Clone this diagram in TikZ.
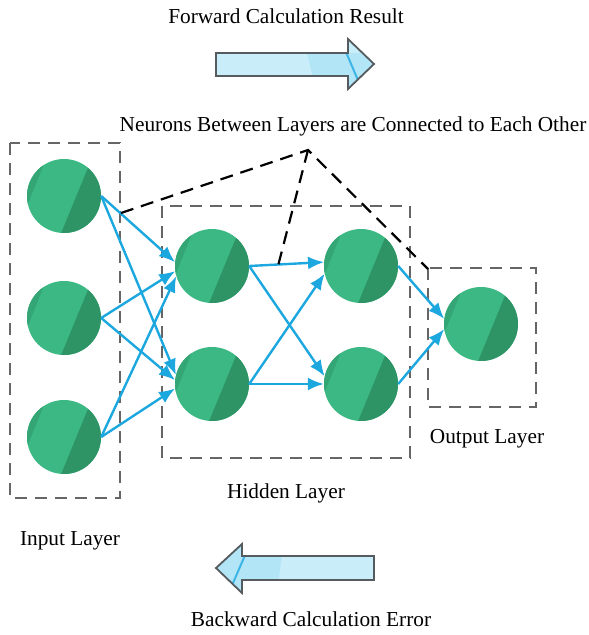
\documentclass[tikz,border=0pt]{standalone}
\usepackage{fontspec}
\setmainfont{Liberation Serif}
\usetikzlibrary{arrows.meta,calc}

\definecolor{ngreen}{HTML}{3BB883}
\definecolor{ndark}{HTML}{2E9466}
\definecolor{nsliver}{HTML}{34A676}
\definecolor{linkblue}{HTML}{1CA7DF}
\definecolor{boxgray}{HTML}{666666}
\definecolor{arrowfill}{HTML}{C9EEFA}
\definecolor{arrowshade}{HTML}{B2E5F6}
\definecolor{arrowstripe}{HTML}{3DB5E6}
\definecolor{arrowedge}{HTML}{555B5E}

\begin{document}
\begin{tikzpicture}[x=1pt,y=-1pt,
  neuron/.style={circle, minimum size=74pt, inner sep=0pt, fill=ngreen,
    path picture={
      \fill[nsliver] ($(path picture bounding box.center)+(-12.5pt,50.5pt)$)
        -- ($(path picture bounding box.center)+(-42.5pt,-23.5pt)$)
        -- ($(path picture bounding box.center)+(-60pt,-23.5pt)$)
        -- ($(path picture bounding box.center)+(-60pt,50.5pt)$) -- cycle;
      \fill[ndark] ($(path picture bounding box.center)+(37.5pt,61pt)$)
        -- ($(path picture bounding box.center)+(-18.5pt,-75pt)$)
        -- ($(path picture bounding box.center)+(60pt,-75pt)$)
        -- ($(path picture bounding box.center)+(60pt,61pt)$) -- cycle;
    }},
  layerbox/.style={draw=boxgray, line width=2pt, dash pattern=on 12pt off 8pt},
  hint/.style={draw=black, line width=2.2pt, dash pattern=on 13pt off 8pt},
  link/.style={draw=linkblue, line width=2.4pt, -{Latex[length=16pt,width=13pt]}},
  label/.style={font=\fontsize{21.3}{24}\selectfont, inner sep=0pt},
  bigarrow/.style={draw=arrowedge, line width=1.8pt, line join=miter}
]
\useasboundingbox (0,0) rectangle (589,635);

% dashed layer frames
\draw[layerbox] (10,143) rectangle (120,498);
\draw[layerbox] (162,206) rectangle (410,458);
\draw[layerbox] (428,268) rectangle (536,407);

% neurons
\node[neuron] (i1) at (64,196) {};
\node[neuron] (i2) at (64,318) {};
\node[neuron] (i3) at (64,437) {};
\node[neuron] (h1) at (212,266) {};
\node[neuron] (h2) at (212,384) {};
\node[neuron] (g1) at (361,266) {};
\node[neuron] (g2) at (361,384) {};
\node[neuron] (o)  at (481,324) {};

% connections between layers
\draw[link] (i1.east) -- (h1.174);
\draw[link] (i1.east) -- (h2.166);
\draw[link] (i2.east) -- (h1.188);
\draw[link] (i2.east) -- (h2.174);
\draw[link] (i3.east) -- (h1.196);
\draw[link] (i3.east) -- (h2.187);
\draw[link] (h1.east) -- (g1.174);
\draw[link] (h1.east) -- (g2.168);
\draw[link] (h2.east) -- (g1.192);
\draw[link] (h2.east) -- (g2.180);
\draw[link] (g1.east) -- (o.172);
\draw[link] (g2.east) -- (o.188);

% callout lines
\coordinate (apex) at (308,150);
\coordinate (cL) at (121,213);
\coordinate (cM) at (278,266);
\coordinate (cR) at (428,269);
\draw[hint] (cL) -- (apex) -- (cR);
\draw[hint] (apex) -- (cM);

% forward arrow
\begin{scope}
  \path[clip] (216,53) -- (348,53) -- (348,39) -- (374,64) -- (348,89) -- (348,76) -- (216,76) -- cycle;
  \fill[arrowfill] (200,30) rectangle (380,95);
  \fill[arrowshade] (307,53) -- (380,53) -- (380,95) -- (317,95) -- cycle;
  \draw[arrowstripe, line width=2pt] (343,45) -- (360,85);
\end{scope}
\draw[bigarrow] (216,53) -- (348,53) -- (348,39) -- (374,64) -- (348,89) -- (348,76) -- (216,76) -- cycle;

% backward arrow
\begin{scope}
  \path[clip] (374,556) -- (242,556) -- (242,544) -- (216,568) -- (242,593) -- (242,580) -- (374,580) -- cycle;
  \fill[arrowfill] (210,540) rectangle (380,600);
  \fill[arrowshade] (284,540) -- (210,540) -- (210,600) -- (276,600) -- cycle;
  \draw[arrowstripe, line width=2pt] (249,546) -- (230,590);
\end{scope}
\draw[bigarrow] (374,556) -- (242,556) -- (242,544) -- (216,568) -- (242,593) -- (242,580) -- (374,580) -- cycle;

% texts
\node[label] (tf) at (286,16) {Forward Calculation Result};
\node[label] (tn) at (353,126) {Neurons Between Layers are Connected to Each Other};
\node[label] (to) at (487,439) {Output Layer};
\node[label] (th) at (286,493) {Hidden Layer};
\node[label] (ti) at (70,541) {Input Layer};
\node[label] (tb) at (311,619) {Backward Calculation Error};
\end{tikzpicture}
\end{document}
